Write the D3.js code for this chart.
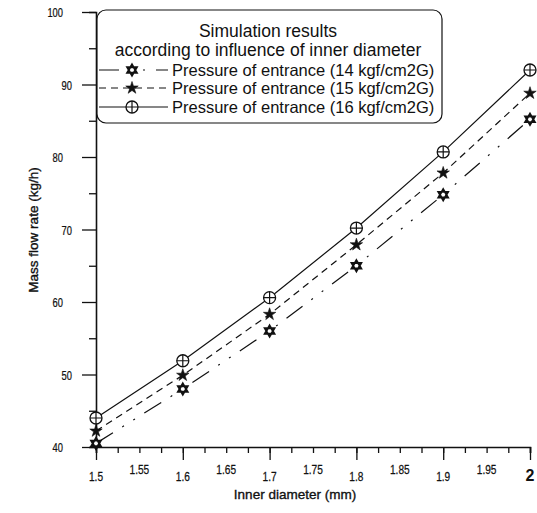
<!DOCTYPE html>
<html>
<head>
<meta charset="utf-8">
<script src="https://cdn.jsdelivr.net/npm/d3@7"></script>
<style>
  html, body { margin: 0; padding: 0; background: #fff; }
  svg { display: block; }
  .tick-label { font-family: "Liberation Sans", Arial, sans-serif; font-size: 13px; fill: #111; stroke: #111; stroke-width: 0.25; }
  .axis-title { font-family: "Liberation Sans", Arial, sans-serif; font-size: 13.5px; fill: #111; stroke: #111; stroke-width: 0.35; }
  .legend-text { font-family: "Liberation Sans", Arial, sans-serif; font-size: 16.5px; fill: #111; }
</style>
</head>
<body>
<svg id="chart" width="537" height="513"></svg>
<script>
// Inner diameter (mm) at which each case was simulated
const diameters = [1.5, 1.6, 1.7, 1.8, 1.9, 2.0];

// Mass flow rate (kg/h) for each entrance pressure
const flow14 = [40.5, 48.0, 56.0, 65.0, 74.8, 85.2];
const flow15 = [42.2, 49.9, 58.3, 67.9, 77.8, 88.8];
const flow16 = [44.0, 51.9, 60.6, 70.2, 80.7, 92.0];

const seriesNames = [
  "Pressure of entrance (14 kgf/cm2G)",
  "Pressure of entrance (15 kgf/cm2G)",
  "Pressure of entrance (16 kgf/cm2G)"
];

const legendTitle = ["Simulation results", "according to influence of inner diameter"];

// Tick labels
const xTickValues = [1.5, 1.55, 1.6, 1.65, 1.7, 1.75, 1.8, 1.85, 1.9, 1.95, 2];
const xTickLabels = ["1.5", "1.55", "1.6", "1.65", "1.7", "1.75", "1.8", "1.85", "1.9", "1.95", "2"];
const yTickValues = [40, 50, 60, 70, 80, 90, 100];
const yTickLabels = ["40", "50", "60", "70", "80", "90", "100"];

const xTitle = "Inner diameter (mm)";
const yTitle = "Mass flow rate (kg/h)";

const svg = d3.select("#chart");

const x = d3.scaleLinear().domain([1.5, 2]).range([96, 530]);
const y = d3.scaleLinear().domain([40, 100]).range([447, 12]);

const ink = "#111";

// ---- axes ----
// minor x ticks every 0.025
const xMinor = d3.axisBottom(x)
  .tickValues(d3.range(0, 21).map(i => 1.5 + i * 0.025))
  .tickSize(6).tickFormat("");
const xMajor = d3.axisBottom(x)
  .tickValues(diameters).tickSize(13).tickFormat("");
const yMinor = d3.axisLeft(y)
  .tickValues([45, 55, 65, 75, 85, 95]).tickSize(7).tickFormat("");
const yMajor = d3.axisLeft(y)
  .tickValues(yTickValues).tickSize(14).tickFormat("");

function styleAxis(g) {
  g.selectAll("path.domain").attr("stroke", ink).attr("stroke-width", 1.6);
  g.selectAll(".tick line").attr("stroke", ink).attr("stroke-width", 1.3);
}

svg.append("g").attr("transform", `translate(0,${y(40)})`).call(xMinor).call(styleAxis);
svg.append("g").attr("transform", `translate(0,${y(40)})`).call(xMajor).call(styleAxis)
  .select("path.domain").remove();
svg.append("g").attr("transform", `translate(${x(1.5)},0)`).call(yMinor).call(styleAxis);
svg.append("g").attr("transform", `translate(${x(1.5)},0)`).call(yMajor).call(styleAxis)
  .select("path.domain").remove();

// x tick labels: condensed, alternate labels sit a little higher
const lastX = xTickValues.length - 1;
svg.append("g").selectAll("text")
  .data(xTickValues)
  .join("text")
  .attr("class", "tick-label")
  .attr("transform", (d, i) => i === lastX
    ? `translate(${x(d)},${481})`
    : `translate(${x(d)},${i % 2 === 0 ? 481 : 474}) scale(0.78,1)`)
  .attr("text-anchor", "middle")
  .style("font-size", (d, i) => i === lastX ? "16px" : null)
  .style("font-weight", (d, i) => i === lastX ? "bold" : null)
  .style("stroke-width", (d, i) => i === lastX ? 0 : null)
  .text((d, i) => xTickLabels[i]);

// y tick labels: condensed, alternate labels are staggered horizontally
svg.append("g").selectAll("text")
  .data(yTickValues)
  .join("text")
  .attr("class", "tick-label")
  .attr("transform", (d, i) => `translate(${i % 2 === 0 ? 63 : 72},${y(d) + 5}) scale(0.72,1)`)
  .attr("text-anchor", "end")
  .text((d, i) => yTickLabels[i]);

svg.append("text")
  .attr("class", "axis-title")
  .attr("x", 295).attr("y", 499)
  .attr("text-anchor", "middle")
  .text(xTitle);

svg.append("text")
  .attr("class", "axis-title")
  .attr("transform", "translate(38,230) rotate(-90)")
  .attr("text-anchor", "middle")
  .text(yTitle);

// ---- markers ----
function hexagramPath(r) {
  const pts = a => [r * Math.sin(a), -r * Math.cos(a)];
  const tri = off => d3.range(3).map(k => pts(off + k * 2 * Math.PI / 3));
  const t1 = tri(0), t2 = tri(Math.PI / 3);
  return "M" + t1.join("L") + "Z" + "M" + t2.join("L") + "Z";
}

function drawMarker(g, kind) {
  if (kind === 0) {
    g.append("path").attr("d", hexagramPath(5.6))
      .attr("fill", "#fff").attr("stroke", ink).attr("stroke-width", 1.9)
      .attr("stroke-linejoin", "miter");
  } else if (kind === 1) {
    g.append("path").attr("d", d3.symbol(d3.symbolStar, 48)())
      .attr("fill", ink).attr("stroke", ink).attr("stroke-width", 0.6);
  } else {
    g.append("circle").attr("r", 6)
      .attr("fill", "#fff").attr("stroke", ink).attr("stroke-width", 1.3);
    g.append("path").attr("d", "M-6,0H6M0,-6V6")
      .attr("stroke", ink).attr("stroke-width", 1.2);
  }
}

const series = [
  { values: flow14, dash: "20,11,2,11,2,11" },
  { values: flow15, dash: "7,5" },
  { values: flow16, dash: null }
];

const line = d3.line().x(d => x(d[0])).y(d => y(d[1]));

series.forEach((s, si) => {
  const pts = diameters.map((d, i) => [d, s.values[i]]);
  svg.append("path")
    .attr("d", line(pts))
    .attr("fill", "none")
    .attr("stroke", ink)
    .attr("stroke-width", 1.2)
    .attr("stroke-dasharray", s.dash);
  pts.forEach(p => {
    const g = svg.append("g").attr("transform", `translate(${x(p[0])},${y(p[1])})`);
    drawMarker(g, si);
  });
});

// ---- legend ----
const lg = svg.append("g");
lg.append("rect")
  .attr("x", 97).attr("y", 10).attr("width", 345).attr("height", 113)
  .attr("rx", 9).attr("ry", 9)
  .attr("fill", "#fff").attr("stroke", ink).attr("stroke-width", 1.2);

lg.selectAll("text.title")
  .data(legendTitle)
  .join("text")
  .attr("class", "legend-text title")
  .attr("x", 268)
  .attr("y", (d, i) => 37 + i * 19)
  .attr("text-anchor", "middle")
  .style("font-size", "17.5px")
  .text(d => d);

const legendRows = [70, 88, 107];
series.forEach((s, si) => {
  const yy = legendRows[si];
  lg.append("line")
    .attr("x1", 99).attr("x2", 168).attr("y1", yy).attr("y2", yy)
    .attr("stroke", ink).attr("stroke-width", 1.2)
    .attr("stroke-dasharray", s.dash);
  const g = lg.append("g").attr("transform", `translate(132,${yy})`);
  drawMarker(g, si);
  lg.append("text")
    .attr("class", "legend-text")
    .attr("x", 172).attr("y", yy + 6)
    .text(seriesNames[si]);
});
</script>
</body>
</html>
